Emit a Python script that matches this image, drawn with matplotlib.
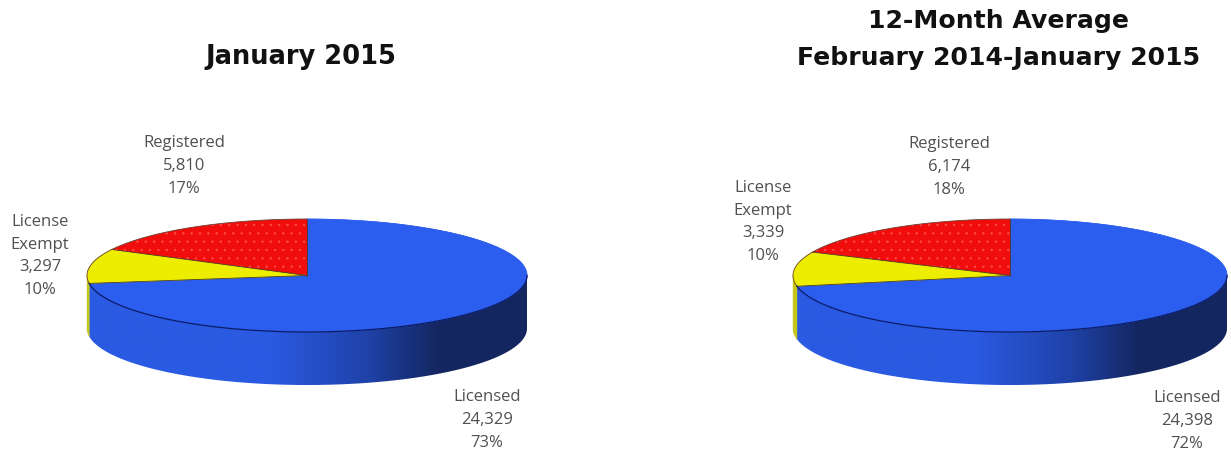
import numpy as np
import matplotlib
matplotlib.use("Agg")
import matplotlib.pyplot as plt
from matplotlib.patches import Polygon
from matplotlib.colors import LinearSegmentedColormap

categories_left = ["Licensed", "License\nExempt", "Registered"]
values_left = [24329, 3297, 5810]
percent_left = ["73%", "10%", "17%"]
values_right = [24398, 3339, 6174]
percent_right = ["72%", "10%", "18%"]
title_left = "January 2015"
title_right = "12-Month Average\nFebruary 2014-January 2015"
colors = ["#2B5DEE", "#EDED00", "#F20D0D"]

LABEL_FONT = ["Open Sans", "DejaVu Sans"]
plt.rcParams["hatch.linewidth"] = 0.5

fig = plt.figure(figsize=(12.31, 4.54), dpi=100)
ax = fig.add_axes([0, 0, 1, 1])

side_cmap = LinearSegmentedColormap.from_list(
    "side", [(0, "#2A5AE2"), (0.42, "#2A5AE2"), (0.64, "#1F42A8"), (0.80, "#14265F"), (1, "#14265F")])


def pie3d(cx, cy, rx, ry, depth, values):
    vals = np.asarray(values, float)
    edges = np.concatenate([[0], np.cumsum(vals) / vals.sum()]) * 2 * np.pi

    def pt(t):
        return cx + rx * np.sin(t), cy - ry * np.cos(t)

    # wall
    t = np.linspace(np.pi / 2, edges[1], 200)
    x, y = pt(t)
    wall = Polygon(np.r_[np.c_[x, y], np.c_[x[::-1], y[::-1] + depth]], closed=True,
                   fc="none", ec="none", zorder=2)
    ax.add_patch(wall)
    grad = np.linspace(0, 1, 256).reshape(1, -1)
    im = ax.imshow(grad, cmap=side_cmap, aspect="auto", zorder=2,
                   extent=[cx - rx, cx + rx, cy + ry + depth, cy - ry])
    im.set_clip_path(wall)

    # yellow wall sliver
    t = np.linspace(edges[1], 3 * np.pi / 2, 30)
    x, y = pt(t)
    ax.add_patch(Polygon(np.r_[np.c_[x, y], np.c_[x[::-1], y[::-1] + depth]], closed=True,
                         fc="#C4C61A", ec="#C4C61A", lw=0.3, zorder=2.1))

    # top slices
    for i in range(3):
        t = np.linspace(edges[i], edges[i + 1], 200)
        x, y = pt(t)
        verts = np.r_[[[cx, cy]], np.c_[x, y]]
        if i == 2:
            ax.add_patch(Polygon(verts, closed=True, fc=colors[i], ec="#FF4A4A",
                                 hatch="..", lw=0, zorder=3))
        else:
            ax.add_patch(Polygon(verts, closed=True, fc=colors[i], ec=colors[i], lw=0.3, zorder=3))
        # spokes and rim
        ax.plot([cx, pt(edges[i])[0]], [cy, pt(edges[i])[1]], color="#4A3A20", lw=0.6, zorder=4)
        ax.plot(x, y, color="#2B5DEE" if i == 0 else "#6A4030", lw=0.6, zorder=4)
    ax.plot(*pt(np.linspace(np.pi / 2, edges[1], 200)), color="#0B1C66", lw=0.9, zorder=4)


def label(x, y, name, value, pct):
    ax.text(x, y, f"{name}\n{value:,}\n{pct}", ha="center", va="center", fontsize=12,
            family=LABEL_FONT, color="#505050", linespacing=1.57, zorder=5)


pie3d(307, 275.5, 220, 56.5, 53, values_left)
pie3d(1010, 275.5, 217, 56.5, 53, values_right)

label(184, 166, categories_left[2], values_left[2], percent_left[2])
label(40, 256, categories_left[1], values_left[1], percent_left[1])
label(487, 420, categories_left[0], values_left[0], percent_left[0])
label(949, 167, categories_left[2], values_right[2], percent_right[2])
label(763, 222, categories_left[1], values_right[1], percent_right[1])
label(1187, 421, categories_left[0], values_right[0], percent_right[0])

ax.text(301, 57, title_left, ha="center", va="center", fontsize=18.5, weight="bold",
        family="DejaVu Sans", color="#111111")
ax.text(999, 39.5, title_right, ha="center", va="center", fontsize=18.1, weight="bold",
        family="DejaVu Sans", color="#111111", linespacing=1.68)

ax.set_xlim(0, 1231)
ax.set_ylim(454, 0)
ax.axis("off")
fig.savefig("out.png", dpi=100, facecolor="white")
